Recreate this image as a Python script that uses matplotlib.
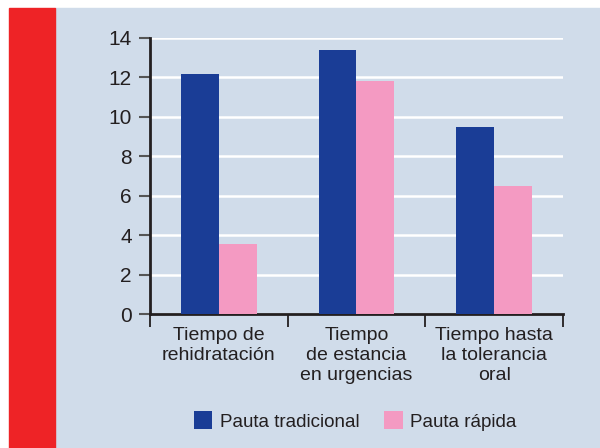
import matplotlib.pyplot as plt
import matplotlib.patches as patches
import numpy as np

categories = ['Tiempo de\nrehidratación', 'Tiempo\nde estancia\nen urgencias', 'Tiempo hasta\nla tolerancia\noral']
tradicional = [12.17, 13.4, 9.5]
rapida = [3.55, 11.8, 6.5]
series_names = ['Pauta tradicional', 'Pauta rápida']
yticks = [0, 2, 4, 6, 8, 10, 12, 14]

plt.rcParams['font.family'] = ['Liberation Sans', 'DejaVu Sans']

fig = plt.figure(figsize=(6, 4.48), dpi=100, facecolor='white')

# Background panel and red strip
fig.patches.append(patches.Rectangle((55 / 600, 0), 545 / 600, 440 / 448,
                                     transform=fig.transFigure, color='#d0dcea', zorder=-10))
fig.patches.append(patches.Rectangle((9 / 600, 0), 46 / 600, 440 / 448,
                                     transform=fig.transFigure, color='#ee2326', zorder=-10))

ax = fig.add_axes([150 / 600, 1 - 314 / 448, 413 / 600, 276 / 448])
ax.set_facecolor('none')

x = np.arange(len(categories))
w = 0.276
ax.bar(x - w / 2, tradicional, w, color='#1a3d96', label=series_names[0], zorder=3)
ax.bar(x + w / 2, rapida, w, color='#f49ac2', label=series_names[1], zorder=3)

ax.set_xlim(-0.5, 2.5)
ax.set_ylim(0, 14)
ax.set_yticks(yticks)
ax.tick_params(axis='y', labelsize=15, length=8, width=1.5, color='#555555',
               labelcolor='#231f20', pad=5)
ax.yaxis.grid(True, color='white', linewidth=1.8, zorder=1)
ax.set_axisbelow(True)

ax.set_xticks([-0.5, 0.5, 1.5, 2.5])
ax.set_xticklabels([])
ax.set_xticks(x, minor=True)
ax.set_xticklabels(categories, minor=True, fontsize=14, color='#231f20', linespacing=1.25)
ax.tick_params(axis='x', which='major', length=9, width=1.3, color='#231f20')
ax.tick_params(axis='x', which='minor', length=0, pad=9)

for s in ['top', 'right']:
    ax.spines[s].set_visible(False)
for s in ['left', 'bottom']:
    ax.spines[s].set_linewidth(2)
    ax.spines[s].set_color('#231f20')

fig.legend(loc='center', bbox_to_anchor=(355 / 600, 1 - 421 / 448), ncol=2, frameon=False,
           fontsize=13.5, handlelength=1.0, handleheight=1.1, handletextpad=0.4,
           columnspacing=1.3, labelcolor='#231f20')

fig.savefig('out.png', dpi=100, facecolor=fig.get_facecolor())
